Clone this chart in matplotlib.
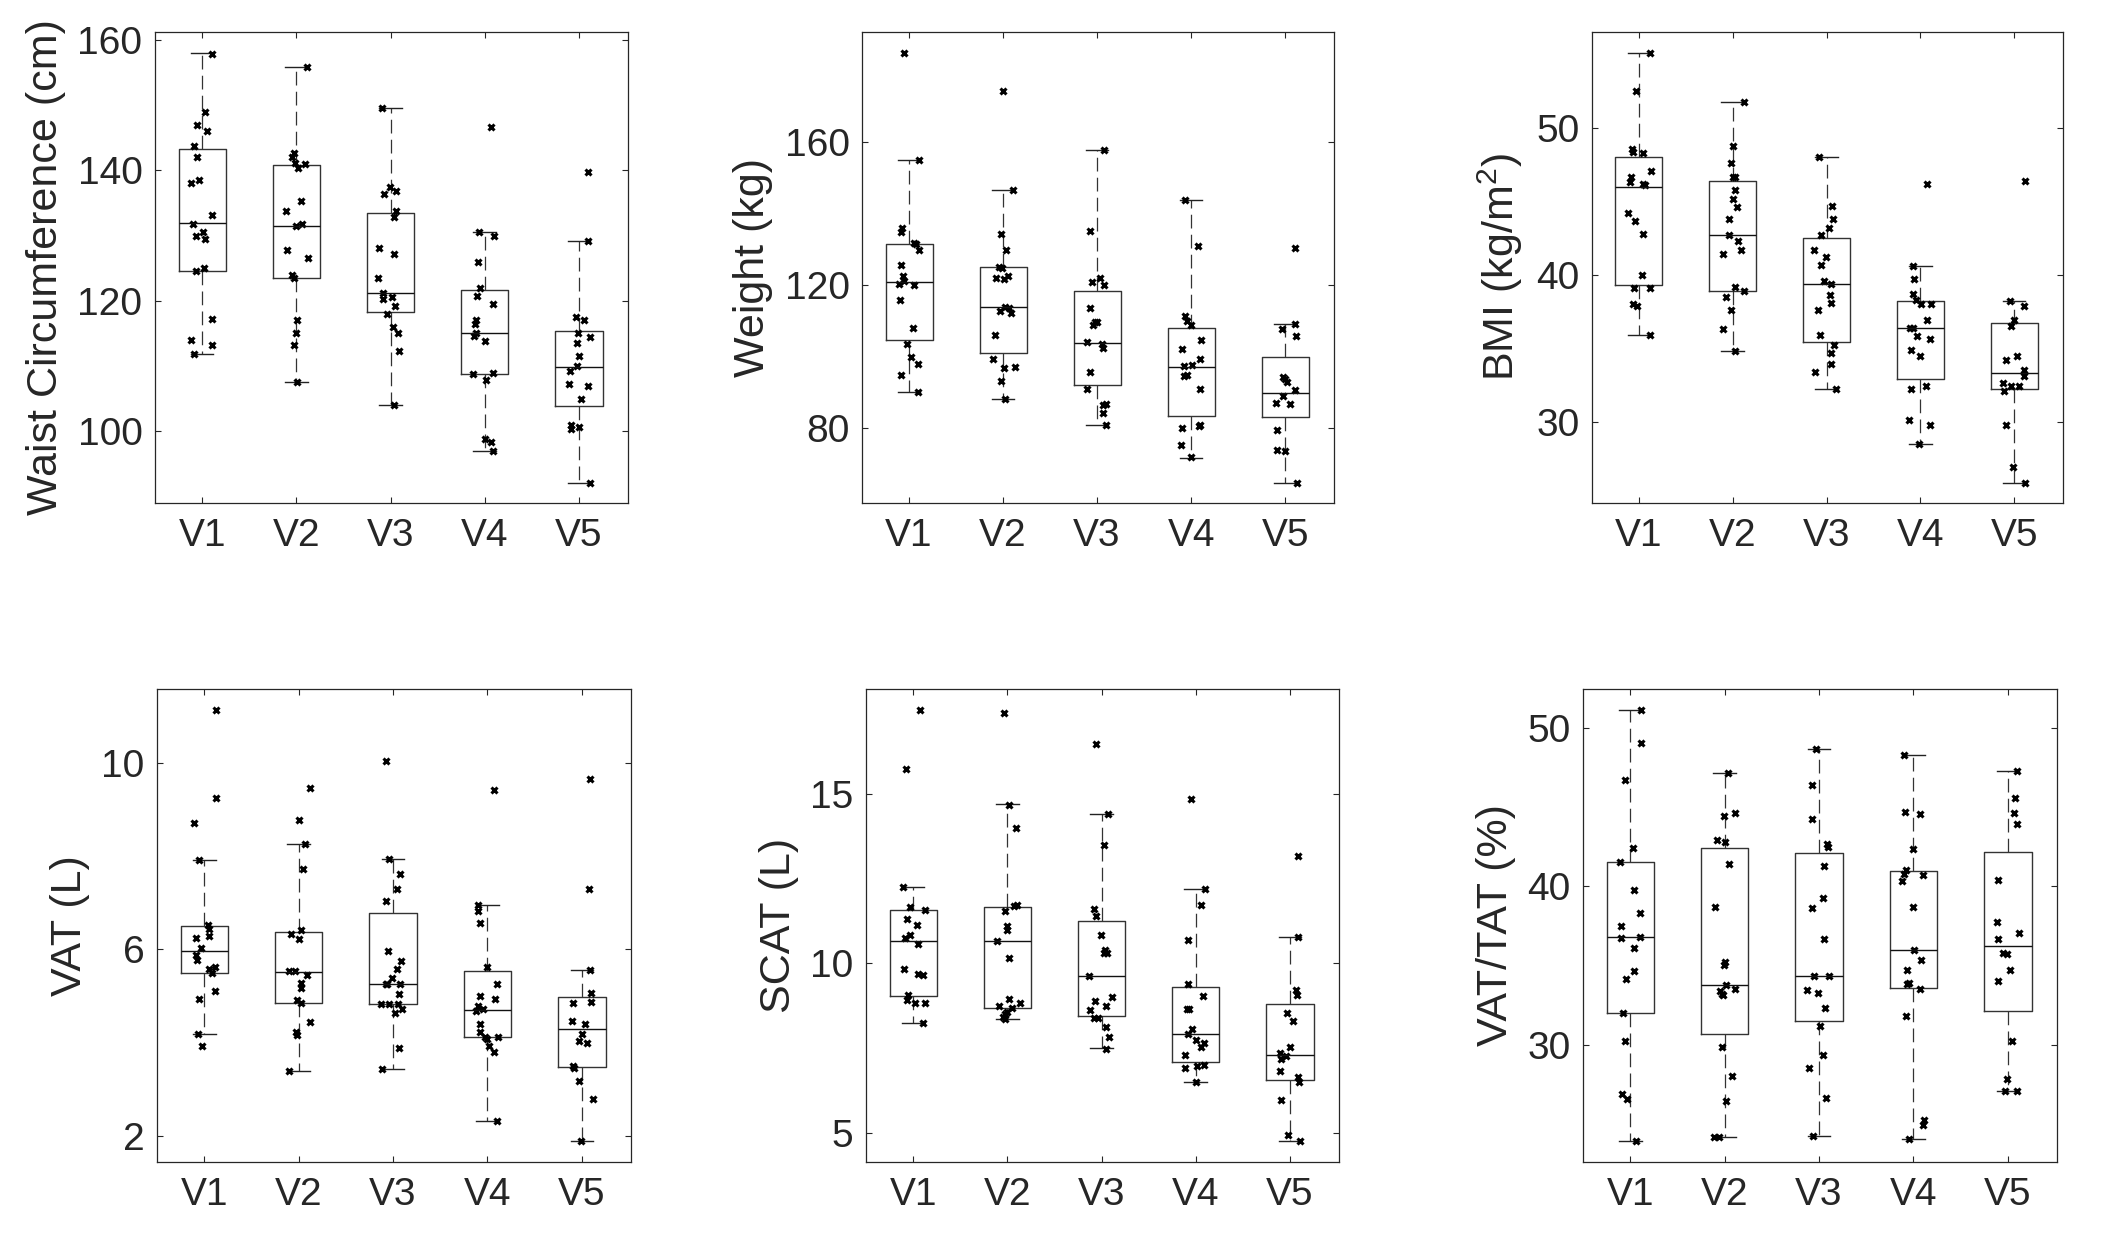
import matplotlib
matplotlib.use('Agg')
import matplotlib.pyplot as plt

plt.rcParams['font.family'] = ['Liberation Sans', 'DejaVu Sans']
plt.rcParams['mathtext.fontset'] = 'custom'
plt.rcParams['mathtext.rm'] = 'Liberation Sans'
plt.rcParams['mathtext.it'] = 'Liberation Sans:italic'

visits = ['V1', 'V2', 'V3', 'V4', 'V5']

# ---- Waist circumference (cm) ----
waist = [
    [157.9, 148.9, 146.9, 146.0, 143.7, 142.0, 138.1, 138.5, 133.2, 131.8, 130.5, 129.9, 129.5, 125.0, 124.5, 117.2, 114.0, 113.2, 111.9],
    [155.8, 142.7, 142.0, 141.1, 140.9, 140.3, 135.3, 133.7, 131.8, 131.4, 127.8, 126.5, 123.9, 123.5, 117.0, 115.0, 113.2, 107.5],
    [149.5, 137.5, 136.9, 136.4, 133.7, 132.9, 128.1, 127.2, 123.5, 121.2, 120.2, 120.6, 119.2, 117.9, 116.0, 115.0, 112.3, 104.0],
    [146.6, 130.5, 129.9, 125.9, 122.0, 120.7, 119.5, 117.0, 116.4, 115.1, 114.6, 113.9, 108.7, 109.0, 107.9, 98.8, 98.4, 96.9],
    [139.7, 129.1, 117.5, 117.0, 115.0, 114.4, 113.6, 111.5, 110.0, 109.2, 107.2, 106.9, 104.9, 100.9, 100.4, 100.6, 92.1],
]
waist_dx = [
    [.11, .03, -.05, .05, -.09, -.05, -.12, -.03, .11, -.10, .01, -.07, .03, .02, -.07, .10, -.12, .10, -.09],
    [.11, -.02, -.05, -.01, .09, .02, .05, -.11, .06, 0, -.10, .12, -.05, -.03, .01, 0, -.03, .01],
    [-.09, -.01, .06, -.07, .06, .04, -.12, .04, -.13, -.08, -.08, .01, .05, -.04, .03, .08, .09, .04],
    [.07, -.06, .10, -.07, -.05, -.08, .09, -.09, -.10, -.09, -.11, 0, -.12, .09, .01, 0, .07, .09],
    [.10, .10, -.03, .05, -.01, .12, -.02, 0, -.02, -.10, -.11, .10, .02, -.09, -.09, 0, .12],
]
# (lower whisker, q1, median, q3, upper whisker)
waist_box = [(111.9, 124.55, 131.95, 143.3, 158.0), (107.5, 123.5, 131.4, 140.8, 155.8),
             (104.0, 118.3, 121.2, 133.5, 149.5), (96.9, 108.8, 115.0, 121.6, 130.5),
             (92.1, 103.9, 109.9, 115.4, 129.1)]

# ---- Weight (kg) ----
weight = [
    [184.7, 154.8, 136.0, 134.7, 131.7, 131.4, 129.7, 125.6, 122.6, 121.1, 120.3, 120.1, 115.7, 108.0, 103.4, 99.8, 97.8, 94.8, 90.2],
    [174.2, 146.6, 134.2, 129.7, 125.0, 124.8, 121.8, 121.5, 122.4, 113.7, 113.6, 112.6, 112.1, 106.0, 99.2, 96.8, 97.1, 93.3, 88.0],
    [157.7, 135.0, 121.8, 120.8, 120.0, 113.5, 109.5, 108.8, 109.5, 104.0, 103.5, 102.3, 95.8, 90.8, 86.5, 86.7, 84.1, 80.8],
    [143.8, 130.9, 111.2, 110.0, 108.7, 104.5, 102.0, 99.3, 97.6, 97.3, 94.6, 94.8, 90.8, 80.1, 80.7, 80.9, 75.3, 71.9],
    [130.3, 109.0, 107.6, 105.6, 94.3, 93.6, 93.0, 90.7, 89.1, 87.1, 86.8, 79.4, 73.8, 73.7, 64.8],
]
weight_dx = [
    [-.05, .11, -.07, -.09, .05, .07, .11, -.09, -.06, -.05, -.11, .05, -.10, .04, -.02, .02, .10, -.08, .10],
    [0, .11, -.02, .03, -.04, -.01, -.08, .01, .05, .02, .06, -.03, .09, -.09, -.11, .01, .13, -.02, .02],
    [.07, -.07, .03, -.05, .07, -.07, -.02, -.04, 0, -.11, .05, .06, -.08, -.11, .06, .09, .06, .10],
    [-.07, .07, -.07, -.04, 0, .11, -.10, .09, .01, -.08, -.08, -.04, .10, -.10, .08, .09, -.11, 0],
    [.10, .10, -.03, .12, -.02, 0, .02, .10, -.02, -.10, .05, -.09, -.09, 0, .13],
]
weight_box = [(90.2, 104.5, 120.9, 131.5, 154.8), (88.0, 101.0, 113.7, 124.9, 146.6),
              (80.9, 92.0, 103.9, 118.2, 157.6), (71.8, 83.3, 97.2, 107.9, 143.8),
              (64.8, 83.2, 89.8, 99.9, 109.0)]

# ---- BMI (kg/m2) ----
bmi = [
    [55.1, 52.5, 48.6, 48.4, 48.3, 47.1, 46.7, 46.3, 46.2, 46.1, 44.2, 43.7, 42.8, 40.0, 39.1, 39.1, 38.0, 37.9, 35.9],
    [51.75, 48.8, 47.6, 46.7, 46.7, 45.8, 45.2, 44.6, 43.8, 42.7, 42.3, 41.7, 41.45, 39.2, 38.9, 38.5, 37.6, 36.3, 34.8],
    [48.0, 44.7, 43.8, 43.2, 42.7, 41.7, 41.2, 40.7, 39.6, 39.4, 38.6, 38.1, 37.6, 35.9, 35.2, 34.7, 33.9, 33.4, 32.2],
    [46.2, 40.6, 39.7, 38.7, 38.3, 38.0, 38.0, 36.9, 36.4, 36.4, 35.8, 35.6, 34.85, 34.5, 32.4, 32.2, 30.1, 29.8, 28.5],
    [46.4, 38.2, 37.9, 36.9, 36.5, 34.5, 34.2, 33.5, 33.1, 32.6, 32.4, 32.4, 32.1, 29.8, 26.9, 25.8],
]
bmi_dx = [
    [.12, -.03, -.07, -.06, .04, .13, -.08, -.09, .04, .06, -.12, -.04, .04, .03, -.05, .12, -.06, -.02, .12],
    [.12, 0, -.02, 0, .02, .02, 0, .05, -.04, -.04, .06, .09, -.10, .02, .12, -.07, -.02, -.10, .02],
    [-.08, .06, .07, .03, -.06, -.13, -.01, -.06, -.03, .05, .04, .05, -.09, -.07, .08, .05, .05, -.12, .10],
    [.07, -.08, -.07, -.08, -.05, .01, .11, .07, -.11, -.08, -.04, .10, -.10, 0, .06, -.10, -.12, .10, -.01],
    [.11, -.04, .10, 0, -.03, .03, -.09, .10, .10, -.12, -.03, .05, -.11, -.09, -.01, .12],
]
bmi_box = [(35.9, 39.3, 46.0, 48.0, 55.1), (34.8, 38.9, 42.7, 46.4, 51.75),
           (32.2, 35.4, 39.4, 42.5, 48.0), (28.5, 32.9, 36.4, 38.2, 40.6),
           (25.8, 32.2, 33.3, 36.7, 38.2)]

# ---- VAT (L) ----
vat = [
    [11.14, 9.26, 8.72, 7.91, 6.52, 6.44, 6.29, 6.25, 6.04, 5.88, 5.78, 5.63, 5.59, 5.5, 5.12, 4.93, 4.18, 3.92],
    [9.47, 8.78, 8.26, 7.73, 6.42, 6.33, 6.22, 5.53, 5.53, 5.45, 5.28, 5.18, 4.91, 4.85, 4.44, 4.23, 4.17, 3.4],
    [10.05, 7.94, 7.62, 7.3, 7.04, 5.96, 5.76, 5.58, 5.39, 5.27, 5.27, 5.25, 5.04, 4.84, 4.84, 4.84, 4.72, 4.63, 3.88, 3.44],
    [9.43, 6.96, 6.82, 6.56, 5.63, 5.25, 5.0, 4.93, 4.78, 4.72, 4.67, 4.41, 4.22, 4.13, 4.09, 4.13, 3.93, 3.81, 2.33],
    [9.66, 7.3, 5.56, 5.06, 4.86, 4.87, 4.47, 4.4, 4.18, 4.04, 4.0, 3.51, 3.45, 3.17, 2.8, 1.89],
]
vat_dx = [
    [.12, .12, -.11, -.05, .04, .05, .05, -.09, -.03, -.09, -.08, .11, .05, .08, .11, -.06, -.07, -.02],
    [.12, 0, .07, .05, .02, -.08, 0, -.10, -.04, .09, .02, .02, -.02, .02, .12, -.03, -.02, -.10],
    [-.07, -.04, .07, .04, -.07, -.05, .08, .04, -.01, -.08, -.06, .07, .06, -.13, -.04, .05, .10, .02, .06, -.12],
    [.07, -.10, -.10, -.08, 0, .10, -.08, .08, -.10, -.05, -.12, -.08, -.08, -.03, 0, .11, .02, .07, .10],
    [.09, .07, .09, .10, -.09, .10, -.11, .03, 0, -.03, .05, -.09, -.08, -.03, .12, -.01],
]
vat_box = [(4.18, 5.5, 5.97, 6.5, 7.91), (3.4, 4.86, 5.51, 6.37, 8.26),
           (3.44, 4.83, 5.27, 6.78, 7.95), (2.33, 4.12, 4.7, 5.53, 6.96),
           (1.89, 3.48, 4.3, 4.97, 5.55)]

# ---- SCAT (L) ----
scat = [
    [17.48, 15.73, 12.26, 11.65, 11.57, 11.31, 11.12, 10.84, 10.76, 10.57, 9.83, 9.68, 9.64, 9.05, 8.9, 8.82, 8.82, 8.23],
    [17.39, 14.68, 13.99, 11.73, 11.69, 11.53, 11.09, 10.97, 10.66, 10.16, 8.94, 8.83, 8.75, 8.67, 8.57, 8.49, 8.41, 8.34],
    [16.48, 14.42, 13.49, 11.61, 11.39, 10.84, 10.4, 10.29, 10.29, 9.62, 8.99, 8.89, 8.74, 8.62, 8.37, 8.37, 8.12, 7.83, 7.48],
    [14.85, 12.19, 11.71, 10.7, 9.39, 9.04, 8.64, 8.64, 8.05, 7.9, 7.72, 7.65, 7.52, 7.3, 6.92, 6.97, 7.0, 6.48],
    [13.17, 10.77, 9.21, 9.07, 8.52, 8.29, 7.52, 7.34, 7.27, 7.17, 6.82, 6.65, 6.48, 5.96, 4.93, 4.76],
]
scat_dx = [
    [.07, -.08, -.11, -.03, .13, -.07, .04, -.03, -.09, .05, -.10, .05, .11, -.05, -.06, .02, .13, .11],
    [-.04, .02, .09, .10, .07, -.02, 0, 0, -.11, .02, .02, .13, -.09, .05, 0, -.02, -.05, -.03],
    [-.06, .07, .03, -.08, -.06, -.01, .04, .03, .06, -.13, .11, -.07, .05, -.12, -.08, -.04, .05, .08, .05],
    [-.05, .10, .06, -.08, -.08, .08, -.09, -.07, -.04, -.08, 0, .09, .06, -.11, -.11, .01, .09, 0],
    [.09, .09, .06, .07, -.03, .03, 0, -.11, -.04, -.10, -.11, .09, .10, -.10, -.02, .11],
]
scat_box = [(8.23, 9.04, 10.67, 11.56, 12.26), (8.36, 8.68, 10.67, 11.65, 14.69),
            (7.49, 8.44, 9.62, 11.26, 14.42), (6.48, 7.09, 7.91, 9.3, 12.2),
            (4.76, 6.55, 7.28, 8.8, 10.79)]

# ---- VAT/TAT (%) ----
ratio = [
    [51.15, 49.07, 46.71, 42.44, 41.56, 39.77, 38.32, 37.51, 36.72, 36.8, 36.11, 34.66, 34.15, 32.01, 30.25, 26.88, 26.56, 23.91],
    [47.18, 44.63, 44.48, 42.93, 42.81, 41.41, 38.71, 35.2, 35.06, 33.8, 33.53, 33.39, 33.19, 33.14, 29.85, 28.04, 26.47, 24.18, 24.18],
    [48.7, 46.42, 44.26, 42.66, 42.47, 41.29, 39.3, 38.64, 36.67, 34.34, 34.34, 33.46, 33.26, 32.33, 31.18, 29.36, 28.53, 26.64, 24.26],
    [48.31, 44.7, 44.58, 42.34, 41.07, 40.82, 40.72, 40.36, 38.71, 36.01, 35.33, 34.71, 33.93, 33.85, 33.53, 31.84, 25.26, 24.92, 24.04],
    [47.3, 45.61, 44.65, 43.96, 40.43, 37.78, 37.09, 36.67, 35.82, 35.74, 34.71, 34.05, 30.25, 27.84, 27.1, 27.1],
]
ratio_dx = [
    [.11, .11, -.06, .03, -.11, .04, .10, -.10, -.10, .10, .04, .04, -.04, -.08, -.06, -.09, -.03, .06],
    [.04, .11, -.01, -.08, 0, .05, -.10, 0, -.01, .01, .11, -.05, -.03, -.02, -.03, .08, .01, -.11, -.06],
    [-.03, -.07, -.07, .08, .09, .05, .04, -.08, .05, -.05, .11, -.13, -.01, .06, .01, .04, -.11, .07, -.06],
    [-.10, -.09, .07, 0, -.08, -.10, .10, -.12, -.01, .01, .08, -.07, -.05, -.07, .07, -.08, .11, .10, -.05],
    [.10, .08, .06, .10, -.11, -.12, .12, -.10, -.05, -.01, .02, -.11, .04, -.01, -.03, .10],
]
ratio_box = [(23.91, 31.99, 36.8, 41.56, 51.15), (24.18, 30.69, 33.8, 42.42, 47.18),
             (24.26, 31.47, 34.34, 42.12, 48.67), (24.06, 33.61, 35.99, 40.99, 48.31),
             (27.1, 32.13, 36.23, 42.15, 47.3)]

panels = [
    (waist, waist_dx, waist_box, 'Waist Circumference (cm)', (89.0, 161.2), [100, 120, 140, 160]),
    (weight, weight_dx, weight_box, 'Weight (kg)', (59.1, 190.6), [80, 120, 160]),
    (bmi, bmi_dx, bmi_box, 'BMI (kg/m$^2$)', (24.45, 56.55), [30, 40, 50]),
    (vat, vat_dx, vat_box, 'VAT (L)', (1.44, 11.59), [2, 6, 10]),
    (scat, scat_dx, scat_box, 'SCAT (L)', (4.13, 18.1), [5, 10, 15]),
    (ratio, ratio_dx, ratio_box, 'VAT/TAT (%)', (22.59, 52.48), [30, 40, 50]),
]

# axes rectangles in pixels: left, top, right, bottom
rects = [(155, 32, 628, 503), (862, 32, 1334, 503), (1592, 32, 2063, 503),
         (157, 689, 631, 1162), (866, 689, 1339, 1162), (1583, 689, 2057, 1162)]

W, H = 2121, 1249
fig = plt.figure(figsize=(W / 100, H / 100), dpi=100)
ink = '#262626'

for (vals, dxs, boxes, label, ylim, yticks), (l, t, r, b) in zip(panels, rects):
    ax = fig.add_axes([l / W, 1 - b / H, (r - l) / W, (b - t) / H])
    stats = []
    for lo, q1, med, q3, hi in boxes:
        stats.append(dict(whislo=lo, q1=q1, med=med, q3=q3, whishi=hi, fliers=[]))
    ax.bxp(stats, positions=range(1, 6), widths=0.5, capwidths=0.24,
           showfliers=False, manage_ticks=False,
           boxprops=dict(color='#333333', lw=1.0),
           medianprops=dict(color='#111111', lw=1.0),
           whiskerprops=dict(color='#333333', lw=0.9, linestyle=(0, (11, 5))),
           capprops=dict(color='#222222', lw=1.0))
    for i, (v, d) in enumerate(zip(vals, dxs)):
        ax.plot([i + 1 + x for x in d], v, 'x', color='black', ms=4.8, mew=2.2)
    ax.set_xlim(0.5, 5.52)
    ax.set_ylim(*ylim)
    ax.set_xticks(range(1, 6))
    ax.set_xticklabels(visits)
    ax.set_yticks(yticks)
    ax.set_ylabel(label, fontsize=31, color=ink, labelpad=8)
    ax.tick_params(direction='in', length=4, width=0.8, colors=ink,
                   top=True, right=True, labelsize=28)
    ax.tick_params(axis='x', pad=11)
    ax.tick_params(axis='y', pad=9)
    for s in ax.spines.values():
        s.set_color(ink)
        s.set_linewidth(0.9)

fig.savefig('out.png', dpi=100)
